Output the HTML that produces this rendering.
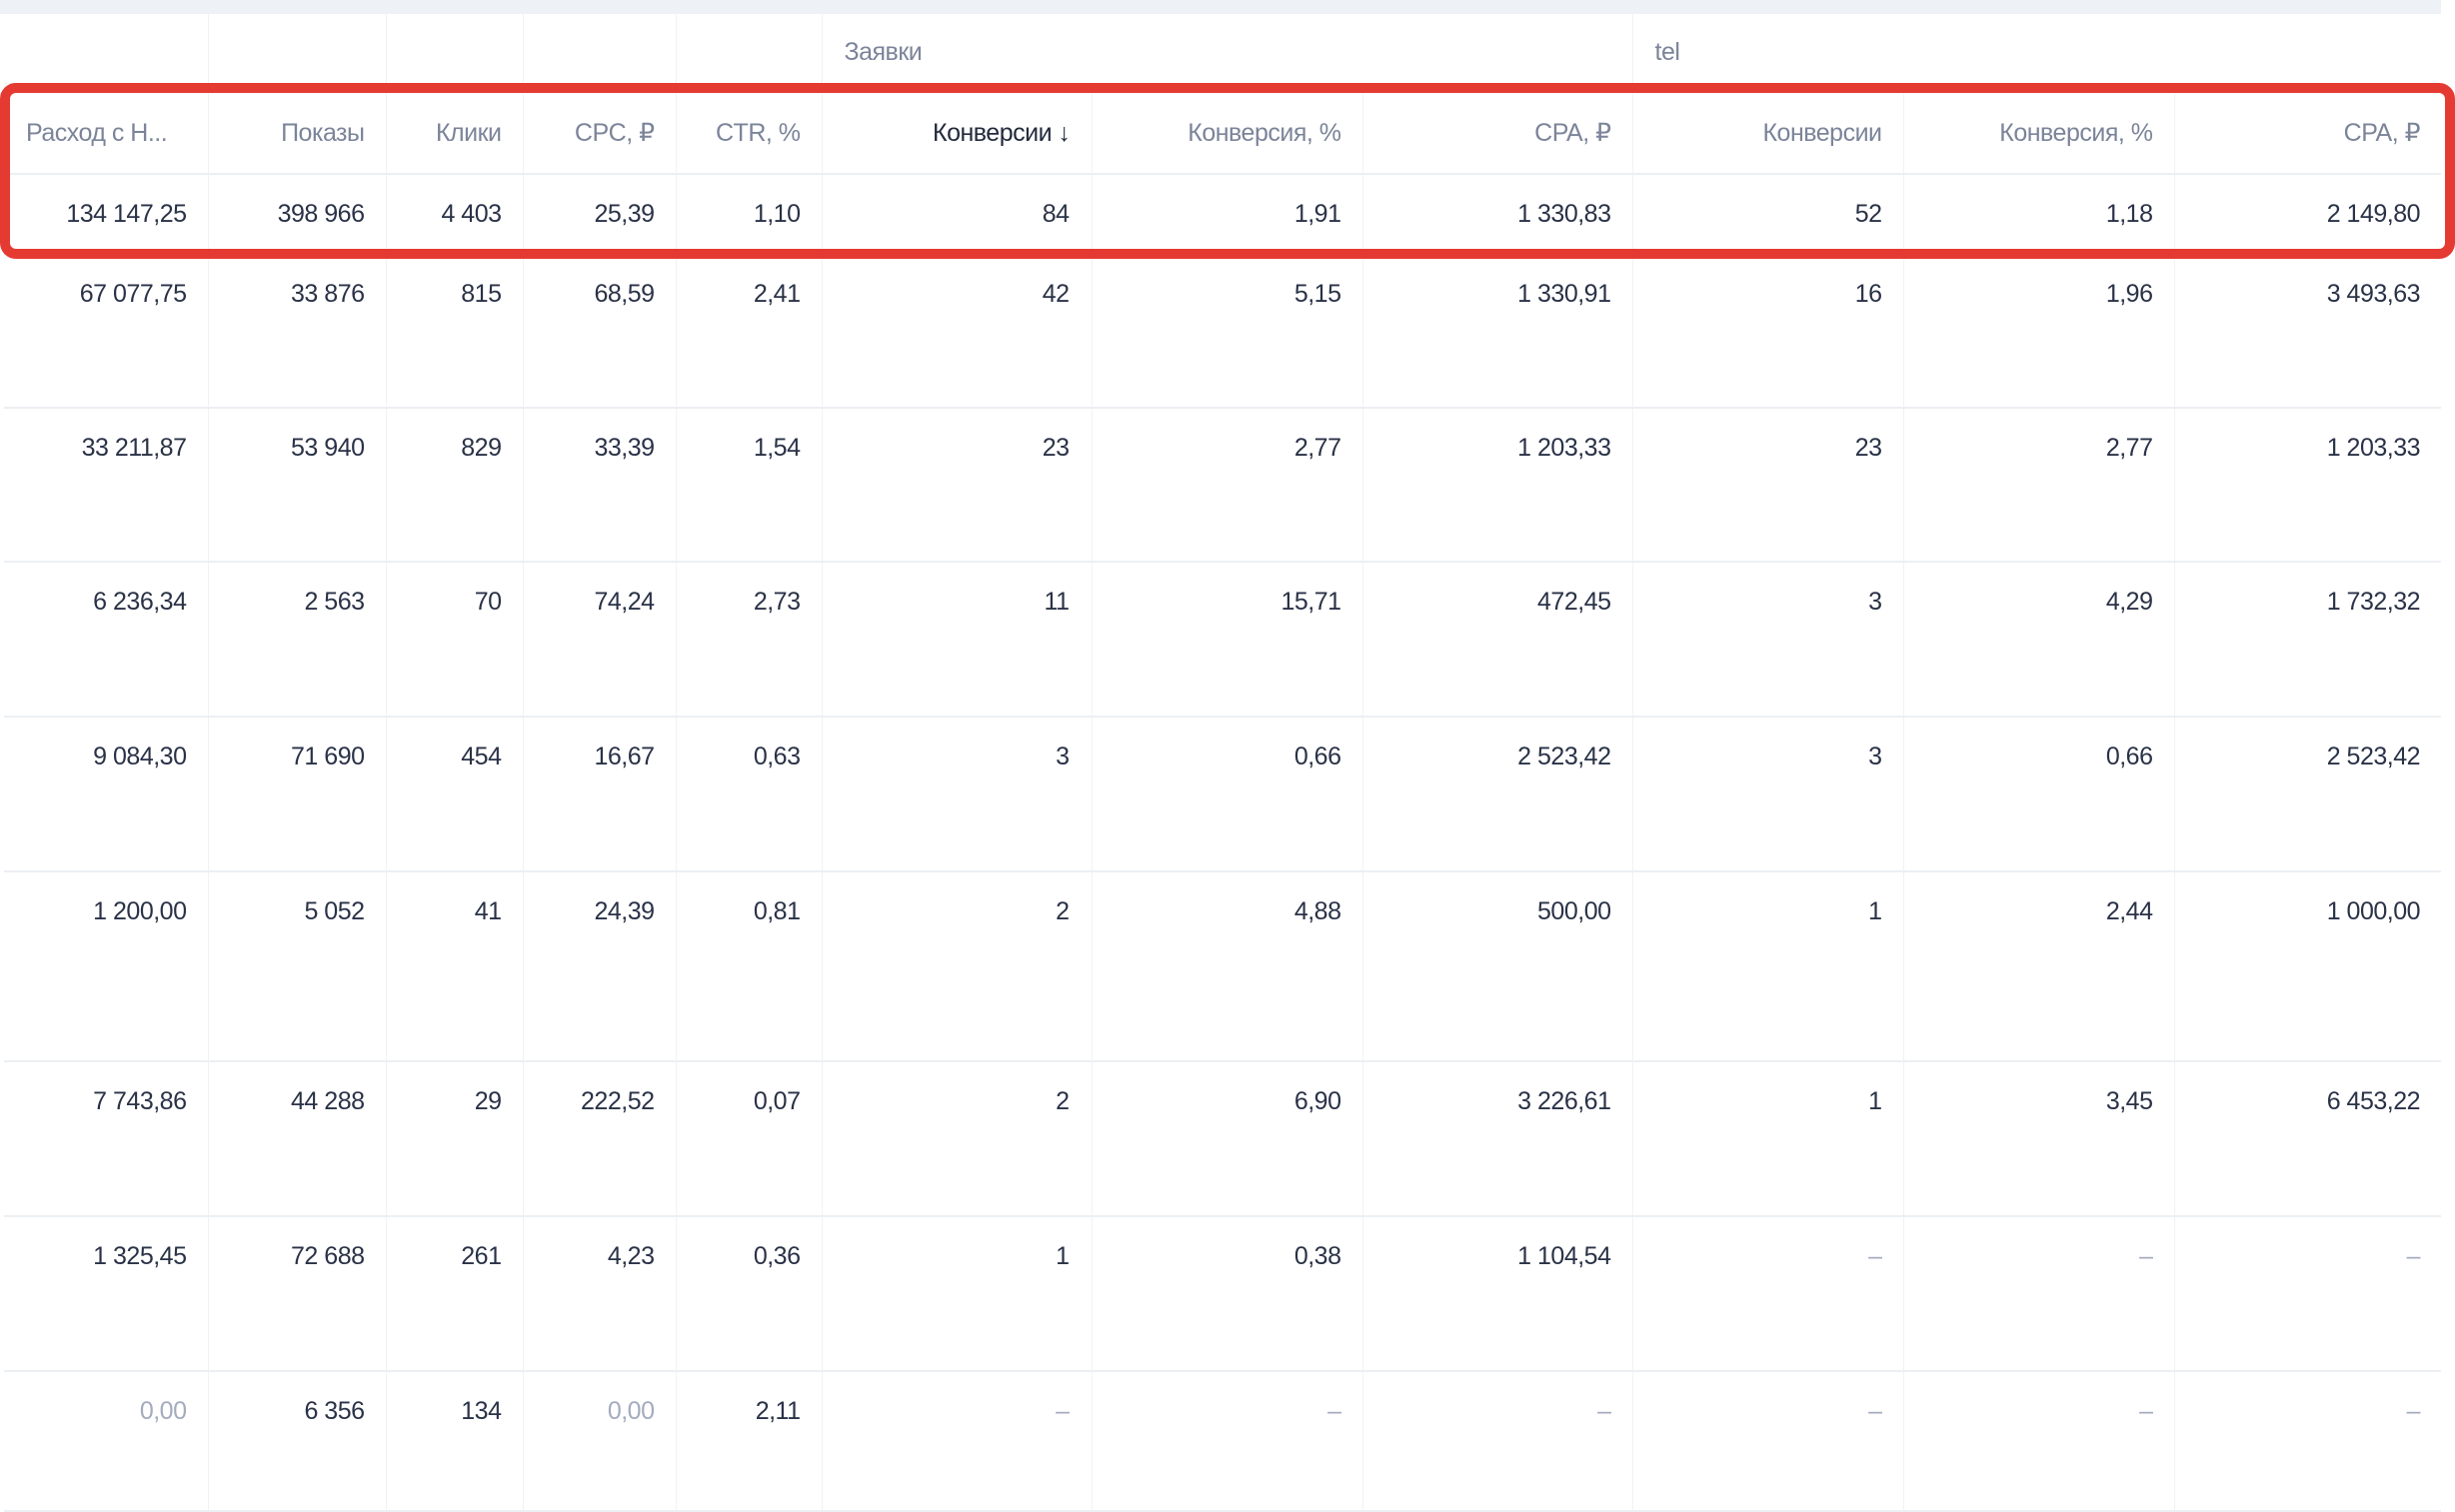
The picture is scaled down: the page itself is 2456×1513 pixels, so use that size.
<!DOCTYPE html>
<html><head><meta charset="utf-8"><style>
html,body{margin:0;padding:0;background:#fff;width:2456px;height:1506px;overflow:hidden}
.bar{position:absolute;left:0;top:0;width:2442px;height:14px;background:#eef1f6}
table{position:absolute;left:4px;top:14px;border-collapse:collapse;table-layout:fixed;width:2438px;font-family:"Liberation Sans",sans-serif;font-size:25px;color:#2a3247;letter-spacing:-0.5px}
td{border-left:1px solid #f0f2f5;border-bottom:2px solid #eceff3;text-align:right;padding:0 21px 0 10px;vertical-align:top;padding-top:24px;line-height:30px;white-space:nowrap;overflow:hidden;box-sizing:border-box}
td:first-child{border-left:none}
tr.g td{height:69px;vertical-align:middle;padding-top:8px;padding-left:22px;text-align:left;color:#7b8499;border-bottom:1px solid #eef0f4}
tr.h td{height:91px;vertical-align:middle;padding-top:10px;color:#7b8499}
tr.h td.s{color:#222a3c}
tr.t td{height:80px;vertical-align:middle;padding-top:0}
.l{color:#a3abbe}
</style></head><body>
<div class="bar"></div>
<table>
<colgroup><col style="width:204px"><col style="width:178px"><col style="width:137px"><col style="width:153px"><col style="width:146px"><col style="width:270px"><col style="width:271px"><col style="width:270px"><col style="width:271px"><col style="width:271px"><col style="width:267px"></colgroup>
<tr class="g"><td></td><td></td><td></td><td></td><td></td><td colspan="3">Заявки</td><td colspan="3">tel</td></tr>
<tr class="h"><td style="text-align:left;padding-left:22px">Расход с Н...</td><td>Показы</td><td>Клики</td><td>CPC, ₽</td><td>CTR, %</td><td class="s">Конверсии ↓</td><td>Конверсия, %</td><td>CPA, ₽</td><td>Конверсии</td><td>Конверсия, %</td><td>CPA, ₽</td></tr>
<tr class="t"><td>134 147,25</td><td>398 966</td><td>4 403</td><td>25,39</td><td>1,10</td><td style="padding-right:22px">84</td><td>1,91</td><td>1 330,83</td><td>52</td><td>1,18</td><td>2 149,80</td></tr>
<tr style="height:154px"><td>67 077,75</td><td>33 876</td><td>815</td><td>68,59</td><td>2,41</td><td style="padding-right:22px">42</td><td>5,15</td><td>1 330,91</td><td>16</td><td>1,96</td><td>3 493,63</td></tr>
<tr style="height:154px"><td>33 211,87</td><td>53 940</td><td>829</td><td>33,39</td><td>1,54</td><td style="padding-right:22px">23</td><td>2,77</td><td>1 203,33</td><td>23</td><td>2,77</td><td>1 203,33</td></tr>
<tr style="height:155px"><td>6 236,34</td><td>2 563</td><td>70</td><td>74,24</td><td>2,73</td><td style="padding-right:22px">11</td><td>15,71</td><td>472,45</td><td>3</td><td>4,29</td><td>1 732,32</td></tr>
<tr style="height:155px"><td>9 084,30</td><td>71 690</td><td>454</td><td>16,67</td><td>0,63</td><td style="padding-right:22px">3</td><td>0,66</td><td>2 523,42</td><td>3</td><td>0,66</td><td>2 523,42</td></tr>
<tr style="height:190px"><td>1 200,00</td><td>5 052</td><td>41</td><td>24,39</td><td>0,81</td><td style="padding-right:22px">2</td><td>4,88</td><td>500,00</td><td>1</td><td>2,44</td><td>1 000,00</td></tr>
<tr style="height:155px"><td>7 743,86</td><td>44 288</td><td>29</td><td>222,52</td><td>0,07</td><td style="padding-right:22px">2</td><td>6,90</td><td>3 226,61</td><td>1</td><td>3,45</td><td>6 453,22</td></tr>
<tr style="height:155px"><td>1 325,45</td><td>72 688</td><td>261</td><td>4,23</td><td>0,36</td><td style="padding-right:22px">1</td><td>0,38</td><td>1 104,54</td><td class="l">–</td><td class="l">–</td><td class="l">–</td></tr>
<tr style="height:140px"><td class="l">0,00</td><td>6 356</td><td>134</td><td class="l">0,00</td><td>2,11</td><td class="l" style="padding-right:22px">–</td><td class="l">–</td><td class="l">–</td><td class="l">–</td><td class="l">–</td><td class="l">–</td></tr>
</table>
<div style="position:absolute;left:0;top:83px;width:2456px;height:176px;box-sizing:border-box;border:10px solid #e53a32;border-radius:16px"></div>
</body></html>
